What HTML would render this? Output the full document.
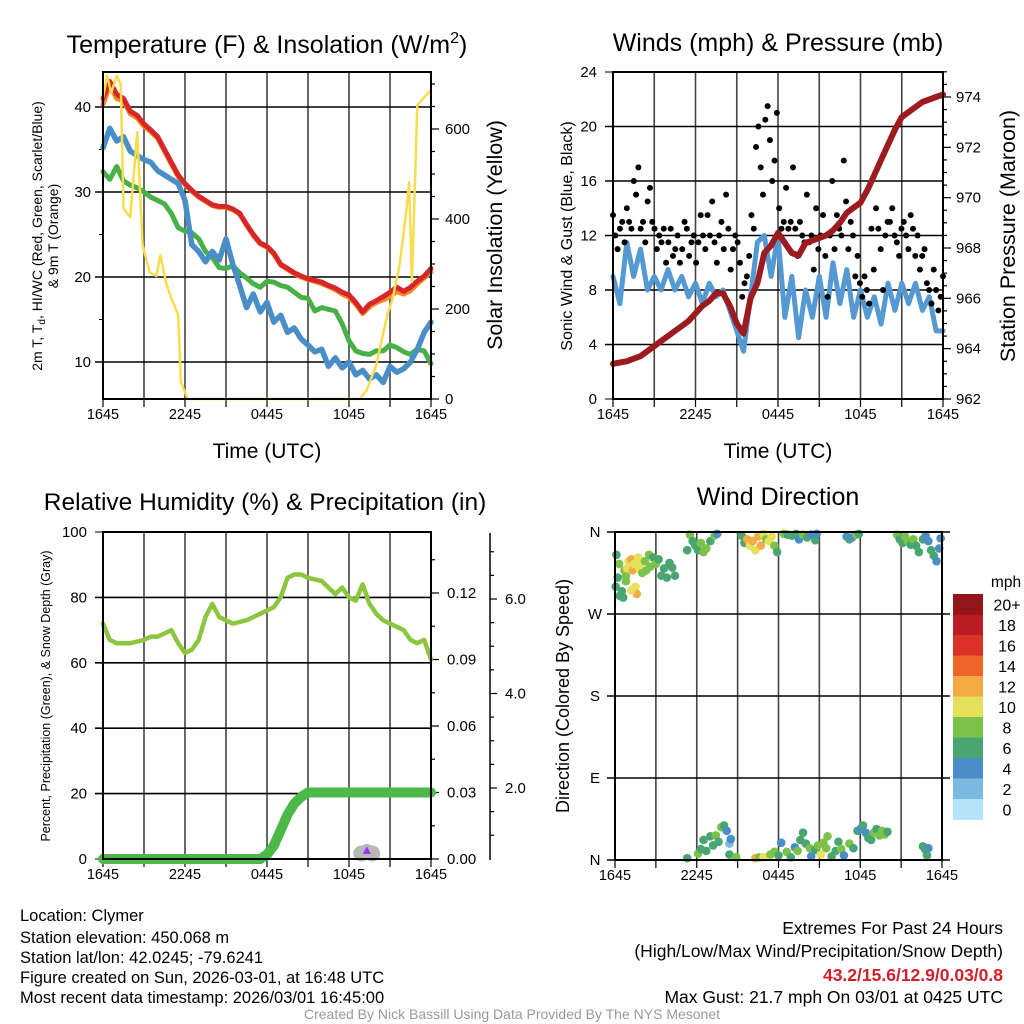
<!DOCTYPE html>
<html><head><meta charset="utf-8"><style>
html,body{margin:0;padding:0;background:#fff;width:1024px;height:1024px;overflow:hidden}
svg text{font-family:"Liberation Sans",Arial,sans-serif;fill:#000}
</style></head><body>
<svg id="fig" width="1024" height="1024" viewBox="0 0 1024 1024" xmlns="http://www.w3.org/2000/svg">
<rect width="1024" height="1024" fill="#fff"/>
<g id="p1"></g>
<g id="p2"></g>
<g id="p3"></g>
<g id="p4"></g>
<g>
<text x="20" y="921" font-size="16.5">Location: Clymer</text>
<text x="20" y="943" font-size="16.5">Station elevation: 450.068 m</text>
<text x="20" y="963" font-size="16.5">Station lat/lon: 42.0245; -79.6241</text>
<text x="20" y="983" font-size="16.5">Figure created on Sun, 2026-03-01, at 16:48 UTC</text>
<text x="20" y="1003" font-size="16.5">Most recent data timestamp: 2026/03/01 16:45:00</text>
</g>
<g>
<text x="1003" y="934" font-size="17.5" text-anchor="end">Extremes For Past 24 Hours</text>
<text x="1003" y="957" font-size="17.5" text-anchor="end">(High/Low/Max Wind/Precipitation/Snow Depth)</text>
<text x="1003" y="981" font-size="17.5" text-anchor="end" font-weight="bold" style="fill:#d0202a">43.2/15.6/12.9/0.03/0.8</text>
<text x="1003" y="1003" font-size="17.5" text-anchor="end">Max Gust: 21.7 mph On 03/01 at 0425 UTC</text>
</g>
<text x="512" y="1019" font-size="14" text-anchor="middle" style="fill:#999">Created By Nick Bassill Using Data Provided By The NYS Mesonet</text>
</svg>
<script>
// ---------- DATA ----------
const hrs = [0,0.5,1,1.5,2,2.5,3,3.5,4,4.5,5,5.5,6,6.5,7,7.5,8,8.5,9,9.5,10,10.5,11,11.5,12,12.5,13,13.5,14,14.5,15,15.5,16,16.5,17,17.5,18,18.5,19,19.5,20,20.5,21,21.5,22,22.5,23,23.5,24];
const timeTickLabels = ["1645","2245","0445","1045","1645"];
const tempRed = [41,43,41.5,41,39.5,39,38,37.3,36.5,35,33.5,32,31,30.2,29.5,29,28.5,28.3,28.3,28,27.5,26.2,25,24,23.6,22.8,21.5,21,20.5,20.1,19.8,19.6,19.4,19,18.7,18.2,17.9,17,15.9,16.8,17.2,17.7,18.2,18.8,18.3,18.8,19.5,20.1,21];
const temp9m = [40.3,42.6,41,40.7,39.2,38.7,37.7,37.1,36.3,34.8,33.3,31.8,30.9,30.1,29.4,28.9,28.4,28.2,28.2,27.9,27.4,26.1,24.9,23.9,23.5,22.7,21.4,20.9,20.4,20,19.7,19.5,19.2,18.9,18.5,18,17.6,16.8,15.7,16.5,17,17.3,17.7,18.3,18,18.4,19.2,19.9,20.6];
const tempBlue = [35.2,37.5,36,36.5,34.8,34.3,33.8,33.5,32.5,32,31.5,31,29,23.8,23,21.8,23,22,24.5,21.5,19,16.4,18,15.9,17,14.7,15.5,13.5,14,12.7,12,11.2,11.5,9.5,10.5,9.3,10,8.5,9,8,8.5,7.6,9.5,8.8,9.2,10,11.5,13.5,14.7];
const tempGreen = [32.4,31.5,33,31.3,30.8,30.5,30,29.4,29,28.6,27.5,25.8,25.4,25.2,24.5,23,22.3,21.1,21,21.3,20.5,19.9,19.2,18.8,19.5,19.4,19,18.8,18.2,17.6,17.5,16,16.4,16.2,16,14.5,12.5,11.3,11,10.9,11.3,11.3,12,11.7,11.2,10.9,11.5,11.3,9.8];
const solarT = [0,0.3,0.6,1,1.3,1.5,2,2.5,2.9,3.4,3.9,4.2,4.6,5,5.5,5.7,6.2,18.8,19.3,20,20.8,21.2,21.7,22.2,22.4,22.6,23,24];
const solarV = [669,719,680,718,700,424,404,593,342,282,273,320,260,224,187,38,0,0,20,76,187,224,298,420,482,260,653,687];
const tempTicks = [10,20,30,40];
const solarTicks = [0,200,400,600];

const pressure = [963.4,963.45,963.5,963.6,963.7,963.9,964.1,964.3,964.5,964.7,964.9,965.1,965.4,965.7,965.9,966.2,966.2,965.7,965,964.6,966,966.6,967.8,968.1,968.6,968.2,967.8,967.7,968.2,968.3,968.4,968.5,968.7,969,969.4,969.6,969.8,970.3,970.9,971.5,972.1,972.7,973.2,973.4,973.6,973.8,973.9,974,974.1];
const windBlue = [9,7,11.5,9,11,8,9,8,9.5,8,9,7.5,8.5,7,8.5,7.5,8,6.5,5,3.5,7.5,11.5,12,9,12,6,9,4.5,8,6,9,6,10,7,9.5,6,8,6,7.5,5.5,8.5,6.5,8.5,7,8.5,6.5,7.5,5,5];
const gusts = [13.5,12,11,12.5,13,11.5, 14,13,12.5,16,15,17, 12.5,13,11.5,14.5,15.5,13, 12.5,11,12,11.5,12.5,10, 11.5,12.5,10.5,11,12,10, 11,13,12.5,10.5,11.5,12, 10,11.5,13.5,12,11,13.5, 12,14.5,11.5,10,12,13, 11,15,12.5,9.5,11,12, 11.5,10,7.5,8.5,9,10.5, 13.5,12.5,18.5,20,17,15, 20.5,21.5,19,16,17.5,21, 14,12.5,13,15.5,12.5,13, 17,12.5,10.5,13,12,11.5, 15,11.5,12,9.5,14,11, 12,13.5,10.5,7.5,12,16, 11,13.5,12.5,12,17.5,14.5, 11,13,12,9,10.5,8.5, 7.5,9,8,7,12.5,9.5, 14,12.5,11,8,12,13, 13,14,12,11.5,10.5,12.5, 13,12,11,13.5,12.5,10.5, 12,9.5,10.5,11,8.5,8, 7,9.5,8,6.5,7.5,9];
const windTicks = [0,4,8,12,16,20,24];
const presTicks = [962,964,966,968,970,972,974];

const rh = [72,67,66,66,66,66.5,67,68,68,69,70,66,63,64,67,74,78,74,73,72,72.5,73,74,75,76,77,80,86,87,87,86,85.5,85,83,81,83,80,79,84,78,75,73,72,71,70,67,66,67,61];
const precip = [0,0,0,0,0,0,0,0,0,0,0,0,0,0,0,0,0,0,0,0,0,0,0,0,0.002,0.006,0.013,0.02,0.025,0.028,0.03,0.03,0.03,0.03,0.03,0.03,0.03,0.03,0.03,0.03,0.03,0.03,0.03,0.03,0.03,0.03,0.03,0.03,0.03];
const rhTicks = [0,20,40,60,80,100];
const precipTicks = [0,0.03,0.06,0.09,0.12];
const snowTicks = [2,4,6];
const snowT = [18.9,19.3,19.7];
const snowD = [0.15,0.3,0.15];

const dirT = [0.1,0.05,0.2,0.3,0.35,0.5,0.6,0.7,0.8,0.9,1.0,1.1,1.2,1.3,1.4,1.5,1.6,1.7,1.8,1.9,2.2,2.3,2.5,2.6,2.8,3.0,3.2,3.4,3.6,3.8,4.0,4.2,4.4,1.2,0.8,2.0,
5.3,5.5,5.7,5.9,6.1,6.3,6.5,6.7,7.0,7.3,7.5,
9.3,9.5,9.7,9.9,10.1,10.3,10.5,10.7,10.9,11.1,11.3,11.5,11.7,11.9,12.4,12.7,13.0,13.3,13.5,13.8,14.1,14.4,14.7,14.8,
17.0,17.2,17.4,17.7,17.9,
20.7,20.9,21.1,21.3,21.5,21.7,21.9,22.1,22.3,22.6,22.8,23.0,23.2,23.4,23.6,23.8,23.9,
5.3,6.1,6.3,6.5,6.7,7.0,7.2,7.4,7.6,7.8,8.0,8.2,8.4,8.5,8.4,8.9,10.3,10.6,10.9,11.4,11.7,12.0,12.2,12.6,12.9,13.2,13.4,13.6,13.8,14.0,14.3,14.4,14.7,14.9,15.1,15.3,15.5,15.6,15.9,16.2,16.4,16.6,16.8,17.2,17.5,17.8,18.0,18.2,18.4,18.6,18.8,19.0,19.2,19.4,19.6,19.8,20.0,22.6,22.8,23.0,22.9];
const dirD = [335,300,310,325,290,295,288,318,312,320,328,322,330,318,325,300,292,332,320,326,328,318,335,322,332,325,330,312,320,310,326,321,312,296,306,315,
340,357,350,345,340,348,338,342,350,356,358,
356,348,352,345,350,340,355,345,358,352,350,355,345,338,358,357,356,358,352,357,354,357,351,358,
355,352,354,357,358,
357,352,348,355,350,346,352,345,338,352,356,350,340,334,328,342,353,
2,7,12,22,10,26,16,27,20,36,38,32,18,23,6,3,2,3,3,6,9,5,19,9,3,14,10,22,30,18,13,4,11,16,6,19,13,26,4,10,20,12,5,18,13,32,34,38,30,24,22,30,34,27,32,28,31,15,11,13,5];
const dirS = [7,7,6,8,7,6,7,9,8,11,10,11,13,12,10,10,12,10,11,10,9,8,8,8,7,8,7,7,6,6,7,7,6,10,8,9,
6,8,7,6,7,8,8,8,7,8,4,
6,7,12,11,13,10,12,13,10,9,10,11,8,6,8,6,7,6,5,8,6,4,6,5,
4,6,4,8,7,
8,6,7,8,8,6,8,7,6,6,4,5,6,6,4,4,4,
6,8,6,7,6,6,7,8,6,8,6,4,2,4,6,8,12,8,10,8,8,6,4,8,6,4,8,6,6,6,8,4,6,8,10,8,8,8,6,6,6,8,4,8,6,6,4,6,4,6,6,8,6,8,8,8,6,6,6,4,6];
const dirTickLabels = ["N","E","S","W","N"];
const speedLabels = ["0","2","4","6","8","10","12","14","16","18","20+"];
const speedColors = ["#b5e3f8","#7cb9e3","#4a8dc7","#4aa670","#7cc24a","#e6e05a","#f6aa44","#ee6429","#da3228","#bb1b23","#921619"];

// ---------- HELPERS ----------
const NS = "http://www.w3.org/2000/svg";
function mk(parent, tag, attrs, text){
  const e = document.createElementNS(NS, tag);
  for (const k in attrs) e.setAttribute(k, attrs[k]);
  if (text !== undefined) e.textContent = text;
  parent.appendChild(e);
  return e;
}
function lin(d0,d1,r0,r1){ return v => r0 + (v-d0)*(r1-r0)/(d1-d0); }

function frame(g, L, T, R, B, xs){
  for (let h=3; h<24; h+=3){
    const v = mk(g,'line',{x1:xs(h),x2:xs(h),y1:T,y2:B,stroke:'#444','stroke-width':1.6});
    
    
  }
  for (let h=0; h<=24; h+=3){
    mk(g,'line',{x1:xs(h),x2:xs(h),y1:B,y2:B+8,stroke:'#000','stroke-width':1.2});
  }
  for (let i=0;i<timeTickLabels.length;i++){
    const t = mk(g,'text',{x:xs(i*6),y:B+20,'font-size':14.5,'text-anchor':'middle'},timeTickLabels[i]);
    
    
  }
}
function border(g,L,T,R,B){
  const r = mk(g,'rect',{x:L,y:T,width:R-L,height:B-T,fill:'none',stroke:'#000','stroke-width':2});
  
  
}
function path(g, xsArr, ysArr, xs, ys, color, w, name){
  let d='';
  for (let i=0;i<xsArr.length;i++) d += (i?'L':'M')+xs(xsArr[i]).toFixed(1)+','+ys(ysArr[i]).toFixed(1);
  const p = mk(g,'path',{d:d,fill:'none',stroke:color,'stroke-width':w,'stroke-linejoin':'round','stroke-linecap':'round'});
  
  
  return p;
}

// ---------- PANEL 1: Temperature ----------
(function(){
  const g = document.getElementById('p1');
  const L=103,T=72,R=431,B=399;
  const xs = lin(0,24,L,R);
  const ys = lin(10,40,362,107);
  const ss = lin(0,600,399,129);
  frame(g,L,T,R,B,xs);
  tempTicks.forEach(v=>{
    const l = mk(g,'line',{x1:L-8,x2:R,y1:ys(v),y2:ys(v),stroke:'#000','stroke-width':1.6});
    
    
    const t = mk(g,'text',{x:L-12,y:ys(v)+5,'font-size':15,'text-anchor':'end'},String(v));
    
    
  });
  [15,25,35].forEach(v=>mk(g,'line',{x1:L-4,x2:L,y1:ys(v),y2:ys(v),stroke:'#000'}));
  for (let v=0; v<=700; v+=50){
    const major = v%200===0;
    mk(g,'line',{x1:R,x2:R+(major?8:4),y1:ss(v),y2:ss(v),stroke:'#000','stroke-width':1.2});
  }
  solarTicks.forEach(v=>{
    const t = mk(g,'text',{x:R+14,y:ss(v)+5,'font-size':15},String(v));
    
    
  });
  path(g,hrs,temp9m,xs,ys,'#f08a2a',5,'9m-temp-line');
  path(g,hrs,tempRed,xs,ys,'#d7262a',5,'hiwc-temp-line');
  path(g,hrs,tempGreen,xs,ys,'#48b046',5,'dewpoint-line');
  path(g,hrs,tempBlue,xs,ys,'#4a8ec8',5.5,'temperature-line');
  path(g,solarT,solarV,xs,ss,'#f7dc4e',2.5,'solar-insolation-line');
  border(g,L,T,R,B);
  let t = mk(g,'text',{x:267,y:53,'font-size':25,'text-anchor':'middle'});
  t.innerHTML = 'Temperature (F) &amp; Insolation (W/m<tspan dy="-10" font-size="16">2</tspan><tspan dy="10">)</tspan>';
  
  
  t = mk(g,'text',{x:267,y:458,'font-size':21,'text-anchor':'middle'},'Time (UTC)');
  
  
  t = mk(g,'text',{transform:'translate(42,236) rotate(-90)','font-size':14,'text-anchor':'middle'});
  t.innerHTML = '2m T, T<tspan dy="3" font-size="10">d</tspan><tspan dy="-3">, HI/WC (Red, Green, Scarlet/Blue)</tspan>';
  
  
  t = mk(g,'text',{transform:'translate(58,236) rotate(-90)','font-size':14,'text-anchor':'middle'},'& 9m T (Orange)');
  
  
  t = mk(g,'text',{transform:'translate(502,235) rotate(-90)','font-size':21.5,'text-anchor':'middle'},'Solar Insolation (Yellow)');
  
  
})();

// ---------- PANEL 2: Winds ----------
(function(){
  const g = document.getElementById('p2');
  const L=613,T=72,R=943,B=399;
  const xs = lin(0,24,L,R);
  const ws = lin(0,24,B,T);
  const ps = lin(962,974,399,97);
  frame(g,L,T,R,B,xs);
  windTicks.forEach(v=>{
    if (v>0 && v<24){
      const l = mk(g,'line',{x1:L-8,x2:R,y1:ws(v),y2:ws(v),stroke:'#000','stroke-width':1.6});
      
      
    } else mk(g,'line',{x1:L-8,x2:L,y1:ws(v),y2:ws(v),stroke:'#000'});
    const t = mk(g,'text',{x:L-16,y:ws(v)+5,'font-size':15,'text-anchor':'end'},String(v));
    
    
  });
  for (let v=962; v<=975; v+=0.5){
    const major = v%2===0;
    mk(g,'line',{x1:R,x2:R+(major?8:4),y1:ps(v),y2:ps(v),stroke:'#000','stroke-width':1.2});
  }
  presTicks.forEach(v=>{
    const t = mk(g,'text',{x:R+13,y:ps(v)+5,'font-size':15},String(v));
    
    
  });
  path(g,hrs,windBlue,xs,ws,'#5499d2',5,'sonic-wind-line');
  gusts.forEach((v,i)=>{
    const c = mk(g,'circle',{cx:xs(i*24/(gusts.length-1)),cy:ws(v),r:3,fill:'#000'});
    
    
  });
  path(g,hrs,pressure,xs,ps,'#9b1b1f',6,'pressure-line');
  border(g,L,T,R,B);
  let t = mk(g,'text',{x:778,y:51,'font-size':25,'text-anchor':'middle'},'Winds (mph) & Pressure (mb)');
  
  
  t = mk(g,'text',{x:778,y:458,'font-size':21,'text-anchor':'middle'},'Time (UTC)');
  
  
  t = mk(g,'text',{transform:'translate(572,236) rotate(-90)','font-size':16,'text-anchor':'middle'},'Sonic Wind & Gust (Blue, Black)');
  
  
  t = mk(g,'text',{transform:'translate(1015,236) rotate(-90)','font-size':21.5,'text-anchor':'middle'},'Station Pressure (Maroon)');
  
  
})();

// ---------- PANEL 3: RH ----------
(function(){
  const g = document.getElementById('p3');
  const L=103,T=532,R=431,B=859;
  const xs = lin(0,24,L,R);
  const ys = lin(0,100,B,T);
  const ps = lin(0,0.12,859,593);
  const sn = lin(2,6,788,599);
  frame(g,L,T,R,B,xs);
  rhTicks.forEach(v=>{
    if (v>0 && v<100){
      const l = mk(g,'line',{x1:L-8,x2:R,y1:ys(v),y2:ys(v),stroke:'#000','stroke-width':1.6});
      
      
    } else mk(g,'line',{x1:L-8,x2:L,y1:ys(v),y2:ys(v),stroke:'#000'});
    const t = mk(g,'text',{x:L-16,y:ys(v)+5,'font-size':15,'text-anchor':'end'},String(v));
    
    
  });
  for (let v=0; v<=0.145; v+=0.015){
    const major = Math.abs(v/0.03-Math.round(v/0.03))<1e-6;
    mk(g,'line',{x1:R,x2:R+(major?8:4),y1:ps(v),y2:ps(v),stroke:'#000','stroke-width':1.2});
  }
  precipTicks.forEach(v=>{
    const t = mk(g,'text',{x:R+16,y:ps(v)+5,'font-size':15},v.toFixed(2));
    
    
  });
  const sx = 490;
  const ax = mk(g,'line',{x1:sx,x2:sx,y1:533,y2:860,stroke:'#000','stroke-width':1.5});
  
  
  for (let v=-0.5; v<=7; v+=0.5){
    const y = sn(v);
    if (y<535||y>858) continue;
    mk(g,'line',{x1:sx,x2:sx+(v%2===0?7:4),y1:y,y2:y,stroke:'#000','stroke-width':1.2});
  }
  snowTicks.forEach(v=>{
    const t = mk(g,'text',{x:sx+15,y:sn(v)+5,'font-size':15},v.toFixed(1));
    
    
  });
  path(g,hrs,rh,xs,ys,'#8cc63f',4.5,'rh-line');
  path(g,hrs,precip,xs,ps,'#4cb848',10,'precip-line');
  snowT.forEach((t,i)=>{
    const c = mk(g,'circle',{cx:xs(t),cy:B-4-snowD[i]*10,r:8,fill:'#b8b8b8'});
    
    
  });
  const pm = mk(g,'path',{d:`M${xs(19.3)-4},${B-5} L${xs(19.3)},${B-13} L${xs(19.3)+4},${B-5}Z`,fill:'#9b30ff'});
  
  
  border(g,L,T,R,B);
  let t = mk(g,'text',{x:265,y:510,'font-size':24.5,'text-anchor':'middle'},'Relative Humidity (%) & Precipitation (in)');
  
  
  t = mk(g,'text',{transform:'translate(50,696) rotate(-90)','font-size':12.5,'text-anchor':'middle'},'Percent, Precipitation (Green), & Snow Depth (Gray)');
  
  
})();

// ---------- PANEL 4: Wind direction ----------
(function(){
  const g = document.getElementById('p4');
  const L=615,T=532,R=942,B=860;
  const xs = lin(0,24,L,R);
  const ds = lin(0,360,B,T);
  frame(g,L,T,R,B,xs);
  dirTickLabels.forEach((lab,i)=>{
    const v = i*90;
    mk(g,'line',{x1:L-8,x2:R+8,y1:ds(v),y2:ds(v),stroke:'#000','stroke-width':1.6});
    const t = mk(g,'text',{x:L-20,y:ds(v)+5,'font-size':15,'text-anchor':'middle'},lab);
    
    
  });
  dirT.forEach((tt,i)=>{
    const bin = Math.min(10,Math.max(0,Math.floor(dirS[i]/2)));
    const c = mk(g,'circle',{cx:xs(tt),cy:ds(dirD[i]),r:4.3,fill:speedColors[bin]});
    
    
  });
  border(g,L,T,R,B);
  const cbT=594, cbH=20.5;
  for (let i=0;i<speedLabels.length;i++){
    const k = speedLabels.length-1-i;
    const r = mk(g,'rect',{x:953,y:cbT+i*cbH,width:30,height:cbH+0.5,fill:speedColors[k]});
    
    
    const t = mk(g,'text',{x:1007,y:cbT+i*cbH+cbH/2+6,'font-size':16,'text-anchor':'middle'},speedLabels[k]);
    
    
  }
  let t = mk(g,'text',{x:1006,y:587,'font-size':15.5,'text-anchor':'middle'},'mph');
  
  
  t = mk(g,'text',{x:778,y:505,'font-size':25,'text-anchor':'middle'},'Wind Direction');
  
  
  t = mk(g,'text',{transform:'translate(569,696) rotate(-90)','font-size':18,'text-anchor':'middle'},'Direction (Colored By Speed)');
  
  
})();
</script>
</body></html>
